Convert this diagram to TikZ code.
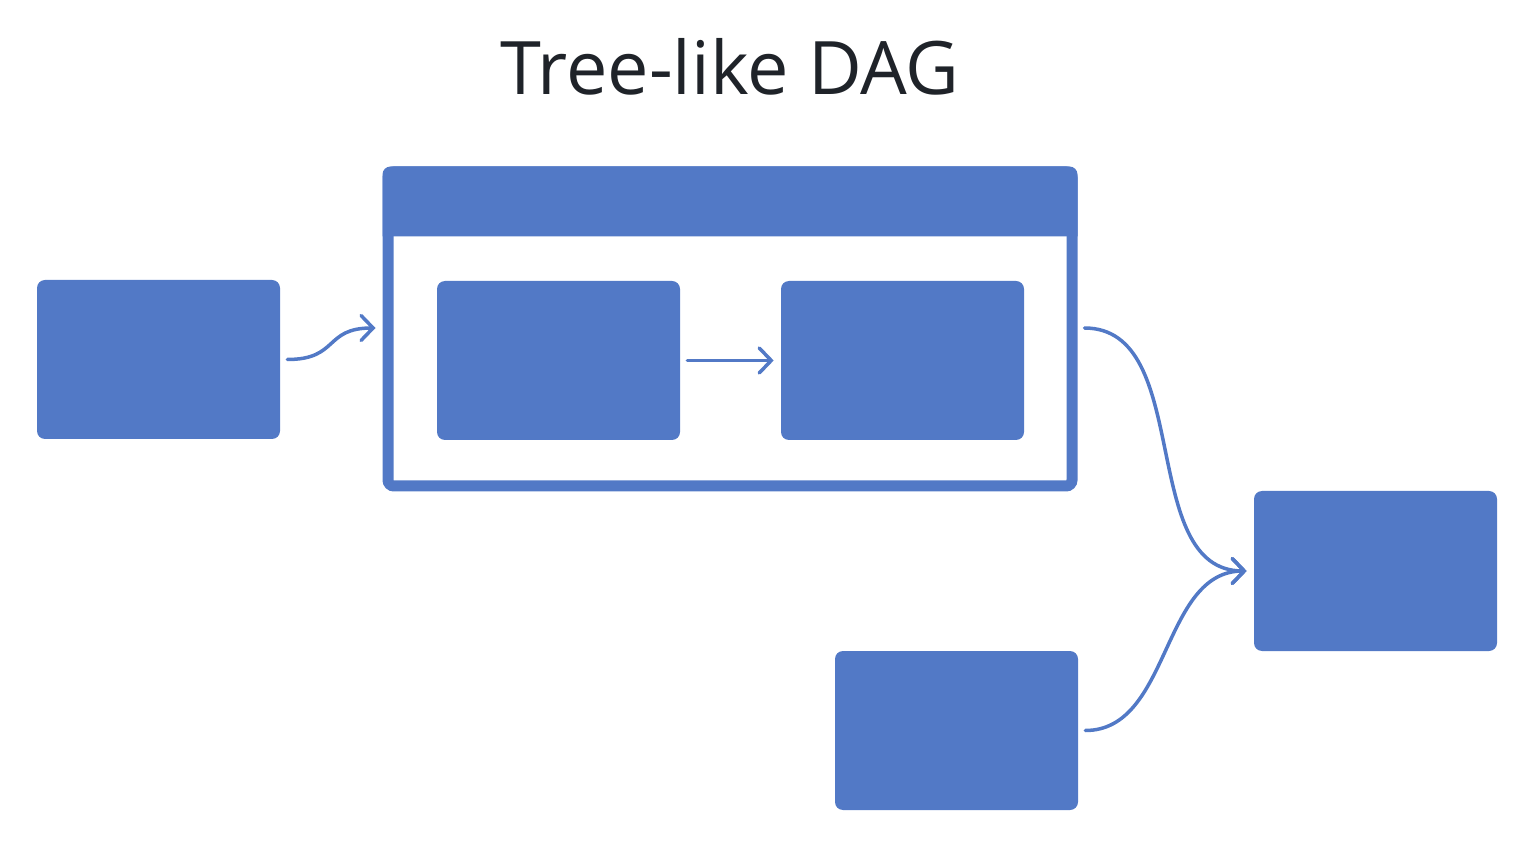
\documentclass[tikz,border=0pt]{standalone}
\usepackage{fontspec}
\setmainfont{Open Sans}
\usetikzlibrary{arrows.meta}
\definecolor{dagblue}{HTML}{5279C6}
\definecolor{titlegray}{HTML}{1F2329}
\begin{document}
\begin{tikzpicture}[
    task/.style={
        fill=dagblue,
        rounded corners=0.16cm,
        minimum width=4.86cm,
        minimum height=3.18cm,
        inner sep=0pt
    },
    group/.style={
        draw=dagblue,
        line width=0.22cm,
        rounded corners=0.12cm,
        minimum width=13.68cm,
        minimum height=6.28cm,
        inner sep=0pt
    },
    edge/.style={
        draw=dagblue,
        line width=0.07cm,
        line cap=round,
        -{Straight Barb[length=0.24cm,width=0.5cm,line cap=round]},
        shorten <=0.14cm,
        shorten >=0.14cm
    }
]

% lienzo
\useasboundingbox (0,0) rectangle (30.48,-16.84);

%%%%%%%%%%%%%%%%%%%%%%%%
% Titulo
%%%%%%%%%%%%%%%%%%%%%%%%

\node[font=\fontsize{42}{48}\selectfont, text=titlegray] (title) at (14.6,-1.34) {Tree-like DAG};

%%%%%%%%%%%%%%%%%%%%%%%%
% Grupo con cabecera
%%%%%%%%%%%%%%%%%%%%%%%%

\node[group] (grp) at (14.6,-6.58) {};
\fill[dagblue, rounded corners=0.16cm]
    ([yshift=-1.4cm]grp.north west) -- (grp.north west) -- (grp.north east)
    [sharp corners] -- ([yshift=-1.4cm]grp.north east) -- cycle;

% --- Tareas ---
\node[task] (a) at (3.17,-7.19) {};
\node[task] (b) at (11.17,-7.21) {};
\node[task] (c) at (18.05,-7.21) {};
\node[task, minimum height=3.2cm] (d) at (27.51,-11.42) {};
\node[task] (e) at (19.13,-14.61) {};

%%%%%%%%%%%%%%%%%%%%%%%%
% Flechas
%%%%%%%%%%%%%%%%%%%%%%%%

\draw[edge] (a.east) to[out=0,in=180,looseness=1.4] ([yshift=0.02cm]grp.west);
\draw[edge] (b.east) -- (c.west);
\draw[edge] ([yshift=0.02cm]grp.east) to[out=0,in=180] (d.west);
\draw[edge] (e.east) to[out=0,in=180] (d.west);

\end{tikzpicture}
\end{document}
